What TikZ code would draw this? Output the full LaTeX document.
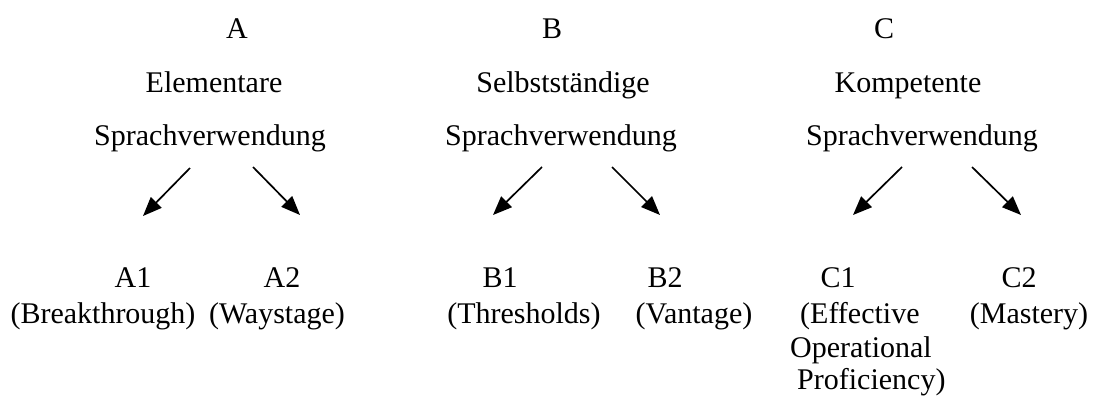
\documentclass[tikz,border=0pt]{standalone}
\usepackage{fontspec}
\setmainfont{Liberation Serif}
\usetikzlibrary{arrows.meta}
\tikzset{
  lbl/.style={inner sep=0pt, anchor=base, font=\fontsize{30}{34}\selectfont},
  lblw/.style={lbl, anchor=base west},
  down/.style={line width=1.7pt, -{Triangle[length=19pt,width=15pt]}}
}
\begin{document}
\begin{tikzpicture}[x=1pt,y=-1pt]
\useasboundingbox (0,0) rectangle (1095,397);
% level headings
\node[lbl] (A)  at (237,38) {A};
\node[lbl] (Ae) at (214,92) {Elementare};
\node[lbl] (As) at (210,145) {Sprachverwendung};
\node[lbl] (B)  at (552,38) {B};
\node[lbl] (Be) at (563,92) {Selbstständige};
\node[lbl] (Bs) at (561,145) {Sprachverwendung};
\node[lbl] (C)  at (884,38) {C};
\node[lbl] (Ce) at (908,92) {Kompetente};
\node[lbl] (Cs) at (922,145) {Sprachverwendung};
% sub-levels
\node[lbl]  (A1)  at (133,287) {A1};
\node[lbl]  (A1t) at (103,323) {(Breakthrough)};
\node[lbl]  (A2)  at (282,287) {A2};
\node[lbl]  (A2t) at (277,323) {(Waystage)};
\node[lbl]  (B1)  at (500,287) {B1};
\node[lbl]  (B1t) at (524,323) {(Thresholds)};
\node[lbl]  (B2)  at (665,287) {B2};
\node[lbl]  (B2t) at (694,323) {(Vantage)};
\node[lbl]  (C1)  at (838,287) {C1};
\node[lblw] (C1a) at (800,323) {(Effective};
\node[lblw] (C1b) at (790,357) {Operational};
\node[lblw] (C1c) at (797,389) {Proficiency)};
\node[lbl]  (C2)  at (1019,287) {C2};
\node[lbl]  (C2t) at (1029,323) {(Mastery)};
% arrow end points
\coordinate (a1s) at (190,168); \coordinate (a1e) at (143,216);
\coordinate (a2s) at (253,167); \coordinate (a2e) at (300,215);
\coordinate (b1s) at (542,167); \coordinate (b1e) at (493,215);
\coordinate (b2s) at (612,167); \coordinate (b2e) at (660,215);
\coordinate (c1s) at (902,167); \coordinate (c1e) at (853,215);
\coordinate (c2s) at (972,167); \coordinate (c2e) at (1021,215);
\draw[down] (a1s) -- (a1e);
\draw[down] (a2s) -- (a2e);
\draw[down] (b1s) -- (b1e);
\draw[down] (b2s) -- (b2e);
\draw[down] (c1s) -- (c1e);
\draw[down] (c2s) -- (c2e);
\end{tikzpicture}
\end{document}
